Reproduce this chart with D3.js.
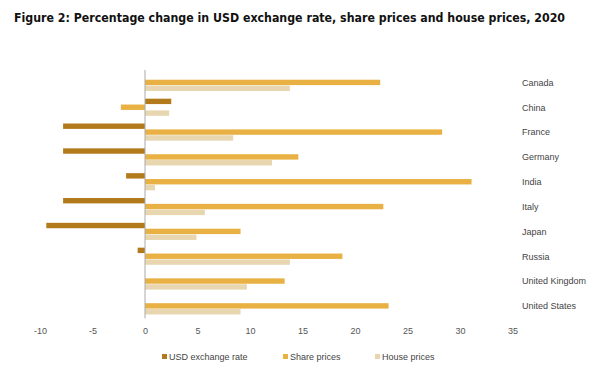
<!DOCTYPE html>
<html>
<head>
<meta charset="utf-8">
<script src="https://cdn.jsdelivr.net/npm/d3@7"></script>
<style>
  body { margin: 0; background: #fff; }
  svg { display: block; }
  .tick text { fill: #555; }
</style>
</head>
<body>
<div id="chart"></div>
<script>
// values (percent change, 2020)
const countries = ["Canada", "China", "France", "Germany", "India", "Italy", "Japan", "Russia", "United Kingdom", "United States"];
const seriesNames = ["USD exchange rate", "Share prices", "House prices"];
const usdRate = [0, 2.5, -7.8, -7.8, -1.8, -7.8, -9.4, -0.7, 0, 0];
const sharePrices = [22.4, -2.3, 28.3, 14.6, 31.1, 22.7, 9.1, 18.8, 13.3, 23.2];
const housePrices = [13.8, 2.3, 8.4, 12.1, 0.95, 5.7, 4.9, 13.8, 9.7, 9.1];
const xTicks = [-10, -5, 0, 5, 10, 15, 20, 25, 30, 35];

const colours = {
    "USD exchange rate": "#b27a1b",
    "Share prices": "#e9b143",
    "House prices": "#e8d6b1"
};

const width = 600, height = 375;

const svg = d3.select("#chart").append("svg")
    .attr("width", width)
    .attr("height", height);

svg.append("text")
    .attr("x", 14)
    .attr("y", 22)
    .attr("font-family", "'DejaVu Sans Condensed', 'DejaVu Sans', sans-serif")
    .attr("font-weight", "bold")
    .attr("font-size", 12)
    .attr("textLength", 551)
    .attr("lengthAdjust", "spacingAndGlyphs")
    .attr("fill", "#111")
    .text("Figure 2: Percentage change in USD exchange rate, share prices and house prices, 2020");

const rows = countries.map((c, i) => ({
    name: c,
    values: [
        {series: seriesNames[0], value: usdRate[i]},
        {series: seriesNames[1], value: sharePrices[i]},
        {series: seriesNames[2], value: housePrices[i]}
    ]
}));

const x = d3.scaleLinear()
    .domain([-10, 35])
    .range([40, 512.5]);

const y0 = d3.scaleBand()
    .domain(countries)
    .range([70, 318.3])
    .paddingInner(0.31)
    .paddingOuter(0.155);

const y1 = d3.scaleBand()
    .domain(seriesNames)
    .range([0, y0.bandwidth()])
    .paddingInner(0.08);

const groups = svg.selectAll(".data-group")
    .data(rows)
    .join("g")
    .attr("class", "data-group")
    .attr("transform", d => `translate(0, ${y0(d.name)})`);

groups.selectAll("rect")
    .data(d => d.values)
    .join("rect")
    .attr("x", d => x(Math.min(0, d.value)))
    .attr("y", d => y1(d.series))
    .attr("width", d => Math.abs(x(d.value) - x(0)))
    .attr("height", y1.bandwidth())
    .attr("fill", d => colours[d.series]);

// zero line
svg.append("line")
    .attr("x1", x(0)).attr("x2", x(0))
    .attr("y1", y0.range()[0]).attr("y2", y0.range()[1])
    .attr("stroke", "#aaa")
    .attr("stroke-width", 1);

// country labels on the right
svg.append("g")
    .selectAll("text")
    .data(countries)
    .join("text")
    .attr("x", 522)
    .attr("y", d => y0(d) + y0.bandwidth() / 2 + 3.3)
    .attr("font-family", "'Liberation Sans', Arial, sans-serif")
    .attr("font-size", 9)
    .attr("fill", "#444")
    .text(d => d);

const xAxis = svg.append("g")
    .attr("transform", "translate(0, 325)")
    .call(d3.axisBottom(x).tickValues(xTicks).tickFormat(d => String(d)).tickSize(0).tickPadding(0));
xAxis.select(".domain").remove();
xAxis.selectAll("text")
    .attr("dy", "0.35em")
    .attr("y", 6)
    .attr("font-family", "'Liberation Sans', Arial, sans-serif")
    .attr("font-size", 9);

// legend
const legendPos = [162, 283, 375];
const legend = svg.append("g")
    .attr("class", "legend")
    .selectAll("g")
    .data(seriesNames)
    .join("g")
    .attr("transform", (d, i) => `translate(${legendPos[i]}, 354)`);

legend.append("rect")
    .attr("width", 5)
    .attr("height", 5)
    .attr("fill", d => colours[d]);

legend.append("text")
    .attr("x", 7)
    .attr("y", 6)
    .attr("font-family", "'Liberation Sans', Arial, sans-serif")
    .attr("font-size", 9)
    .attr("fill", "#444")
    .text(d => d);
</script>
</body>
</html>
